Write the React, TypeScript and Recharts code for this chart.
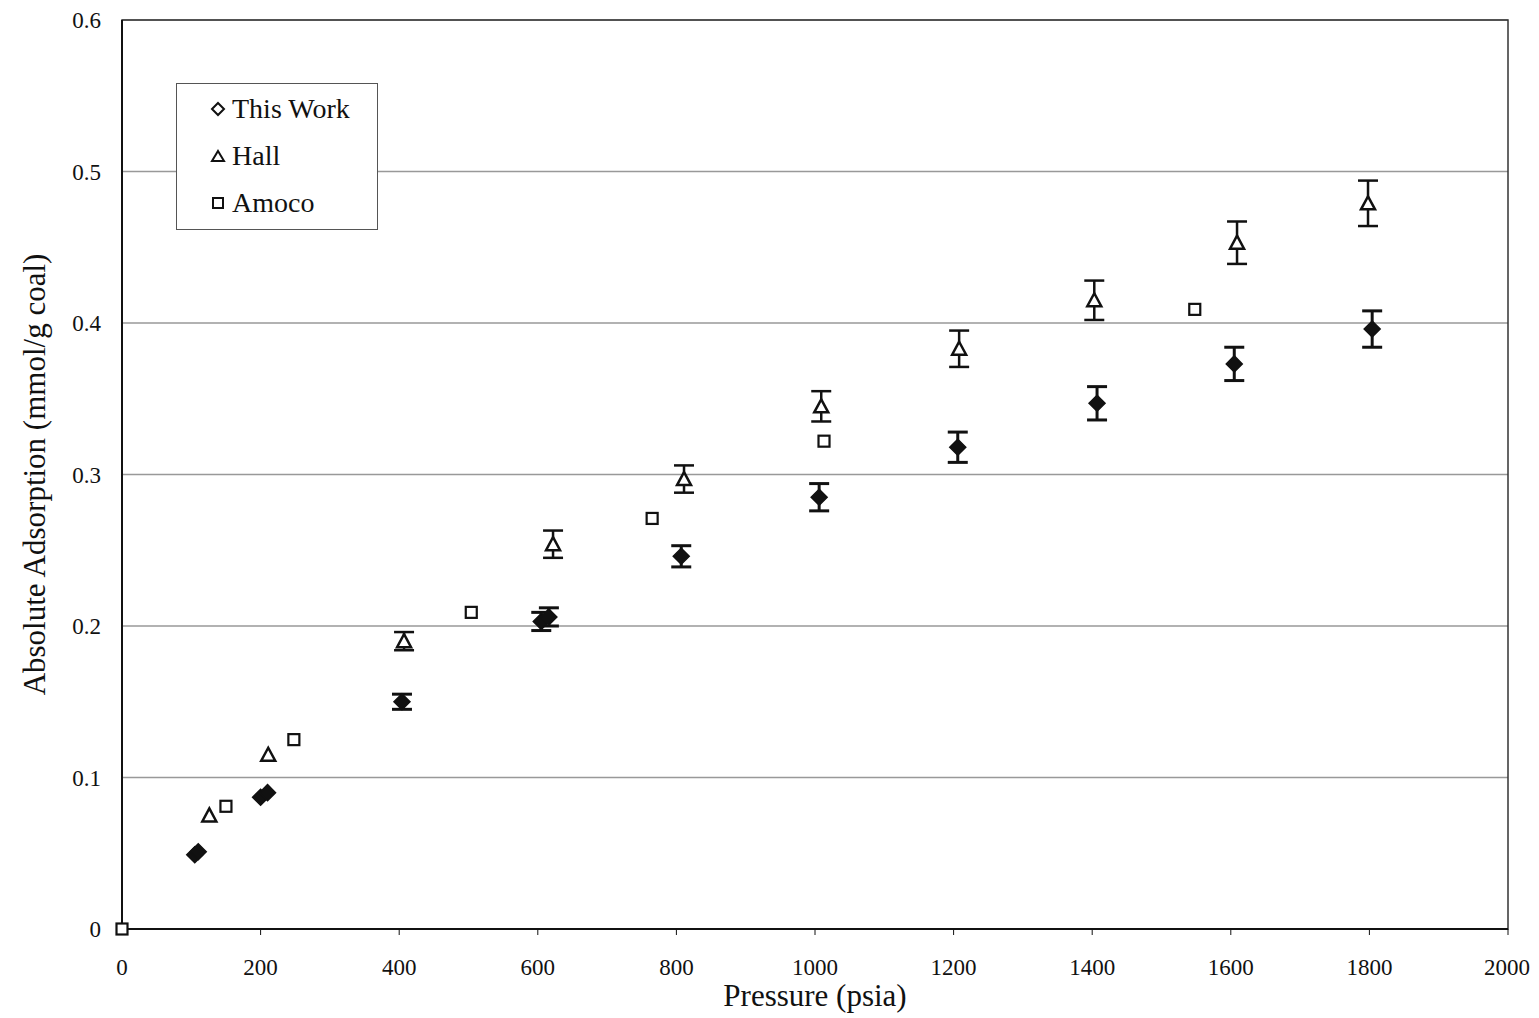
import {
  ScatterChart,
  Scatter,
  XAxis,
  YAxis,
  CartesianGrid,
  ErrorBar,
  ReferenceArea,
} from 'recharts';

// pressure (psia) / absolute adsorption (mmol/g coal) / error
const thisWorkP = [105, 110, 200, 210, 404, 605, 616, 807, 1006, 1206, 1407, 1605, 1804];
const thisWorkA = [0.049, 0.051, 0.087, 0.090, 0.150, 0.203, 0.206, 0.246, 0.285, 0.318, 0.347, 0.373, 0.396];
const thisWorkErr = [0, 0, 0, 0, 0.005, 0.006, 0.006, 0.007, 0.009, 0.010, 0.011, 0.011, 0.012];

const hallP = [126, 211, 407, 622, 811, 1009, 1208, 1403, 1609, 1798];
const hallA = [0.075, 0.115, 0.190, 0.254, 0.297, 0.345, 0.383, 0.415, 0.453, 0.479];
const hallErr = [0, 0, 0.006, 0.009, 0.009, 0.010, 0.012, 0.013, 0.014, 0.015];

const amocoP = [0, 150, 248, 504, 765, 1013, 1548];
const amocoA = [0, 0.081, 0.125, 0.209, 0.271, 0.322, 0.409];

const xTicks = [0, 200, 400, 600, 800, 1000, 1200, 1400, 1600, 1800, 2000];
const yTicks = [0, 0.1, 0.2, 0.3, 0.4, 0.5, 0.6];

const thisWork = thisWorkP.map((p, i) => ({ p, a: thisWorkA[i], err: thisWorkErr[i] }));
const hall = hallP.map((p, i) => ({ p, a: hallA[i], err: hallErr[i] }));
const amoco = amocoP.map((p, i) => ({ p, a: amocoA[i] }));

const font = '"Liberation Serif", "Times New Roman", serif';

const Diamond = (props: any) => {
  const { cx, cy } = props;
  const r = 8;
  return <path d={`M${cx},${cy - r}L${cx + r},${cy}L${cx},${cy + r}L${cx - r},${cy}Z`} fill="#111" stroke="#111" strokeWidth={1.5} />;
};

const Triangle = (props: any) => {
  const { cx, cy } = props;
  return <path d={`M${cx},${cy - 7}L${cx + 7},${cy + 6}L${cx - 7},${cy + 6}Z`} fill="#fff" stroke="#111" strokeWidth={2.5} />;
};

const Square = (props: any) => {
  const { cx, cy } = props;
  return <rect x={cx - 5.5} y={cy - 5.5} width={11} height={11} fill="#fff" stroke="#111" strokeWidth={2.2} />;
};

const LegendBox = () => {
  const rows = [
    { name: 'This Work', mark: <path d="M8,2L14,8L8,14L2,8Z" fill="#fff" stroke="#111" strokeWidth={2} /> },
    { name: 'Hall', mark: <path d="M8,3L14,13L2,13Z" fill="#fff" stroke="#111" strokeWidth={2} /> },
    { name: 'Amoco', mark: <rect x={3} y={3} width={10} height={10} fill="#fff" stroke="#111" strokeWidth={2} /> },
  ];
  return (
    <div
      style={{
        position: 'absolute',
        left: 176,
        top: 83,
        width: 202,
        height: 147,
        border: '1px solid #555',
        background: '#fff',
        boxSizing: 'border-box',
        paddingTop: 1,
        paddingLeft: 33,
        fontFamily: font,
        fontSize: 28,
        color: '#111',
      }}
    >
      {rows.map((r) => (
        <div key={r.name} style={{ display: 'flex', alignItems: 'center', height: 47 }}>
          <svg width={16} height={16} style={{ marginRight: 6 }}>{r.mark}</svg>
          <span>{r.name}</span>
        </div>
      ))}
    </div>
  );
};

export default function App() {
  return (
    <div style={{ position: 'absolute', left: 0, top: 0, width: 1539, height: 1018, background: '#fff' }}>
      <ScatterChart width={1530} height={1018} margin={{ top: 20, right: 22, bottom: 34, left: 62 }}>
        <CartesianGrid vertical={false} stroke="#999" strokeWidth={1.5} />
        <XAxis
          type="number"
          dataKey="p"
          domain={[0, 2000]}
          ticks={xTicks}
          height={55}
          axisLine={{ stroke: '#111', strokeWidth: 2 }}
          tickLine={{ stroke: '#111' }}
          tickSize={6}
          tickMargin={24}
          tick={{ fill: '#111', fontFamily: font, fontSize: 23 }}
          label={{ value: 'Pressure  (psia)', position: 'insideBottom', offset: -22, fill: '#111', fontFamily: font, fontSize: 31 }}
        />
        <YAxis
          type="number"
          dataKey="a"
          domain={[0, 0.6]}
          ticks={yTicks}
          width={60}
          axisLine={{ stroke: '#111', strokeWidth: 2 }}
          tickLine={false}
          tickMargin={15}
          tickFormatter={(v: number) => (v === 0 ? '0' : v.toFixed(1))}
          tick={{ fill: '#111', fontFamily: font, fontSize: 23 }}
          label={{
            value: 'Absolute Adsorption (mmol/g coal)',
            angle: -90,
            position: 'insideLeft',
            offset: -28,
            style: { textAnchor: 'middle' },
            fill: '#111',
            fontFamily: font,
            fontSize: 31,
          }}
        />
        <ReferenceArea x1={0} x2={2000} y1={0} y2={0.6} fill="none" stroke="#333" strokeWidth={1.5} ifOverflow="visible" />
        <Scatter name="Amoco" data={amoco} shape={<Square />} isAnimationActive={false} />
        <Scatter name="Hall" data={hall} shape={<Triangle />} isAnimationActive={false}>
          <ErrorBar dataKey="err" direction="y" width={10} stroke="#111" strokeWidth={2.5} />
        </Scatter>
        <Scatter name="This Work" data={thisWork} shape={<Diamond />} isAnimationActive={false}>
          <ErrorBar dataKey="err" direction="y" width={10} stroke="#111" strokeWidth={3} />
        </Scatter>
      </ScatterChart>
      <LegendBox />
    </div>
  );
}
